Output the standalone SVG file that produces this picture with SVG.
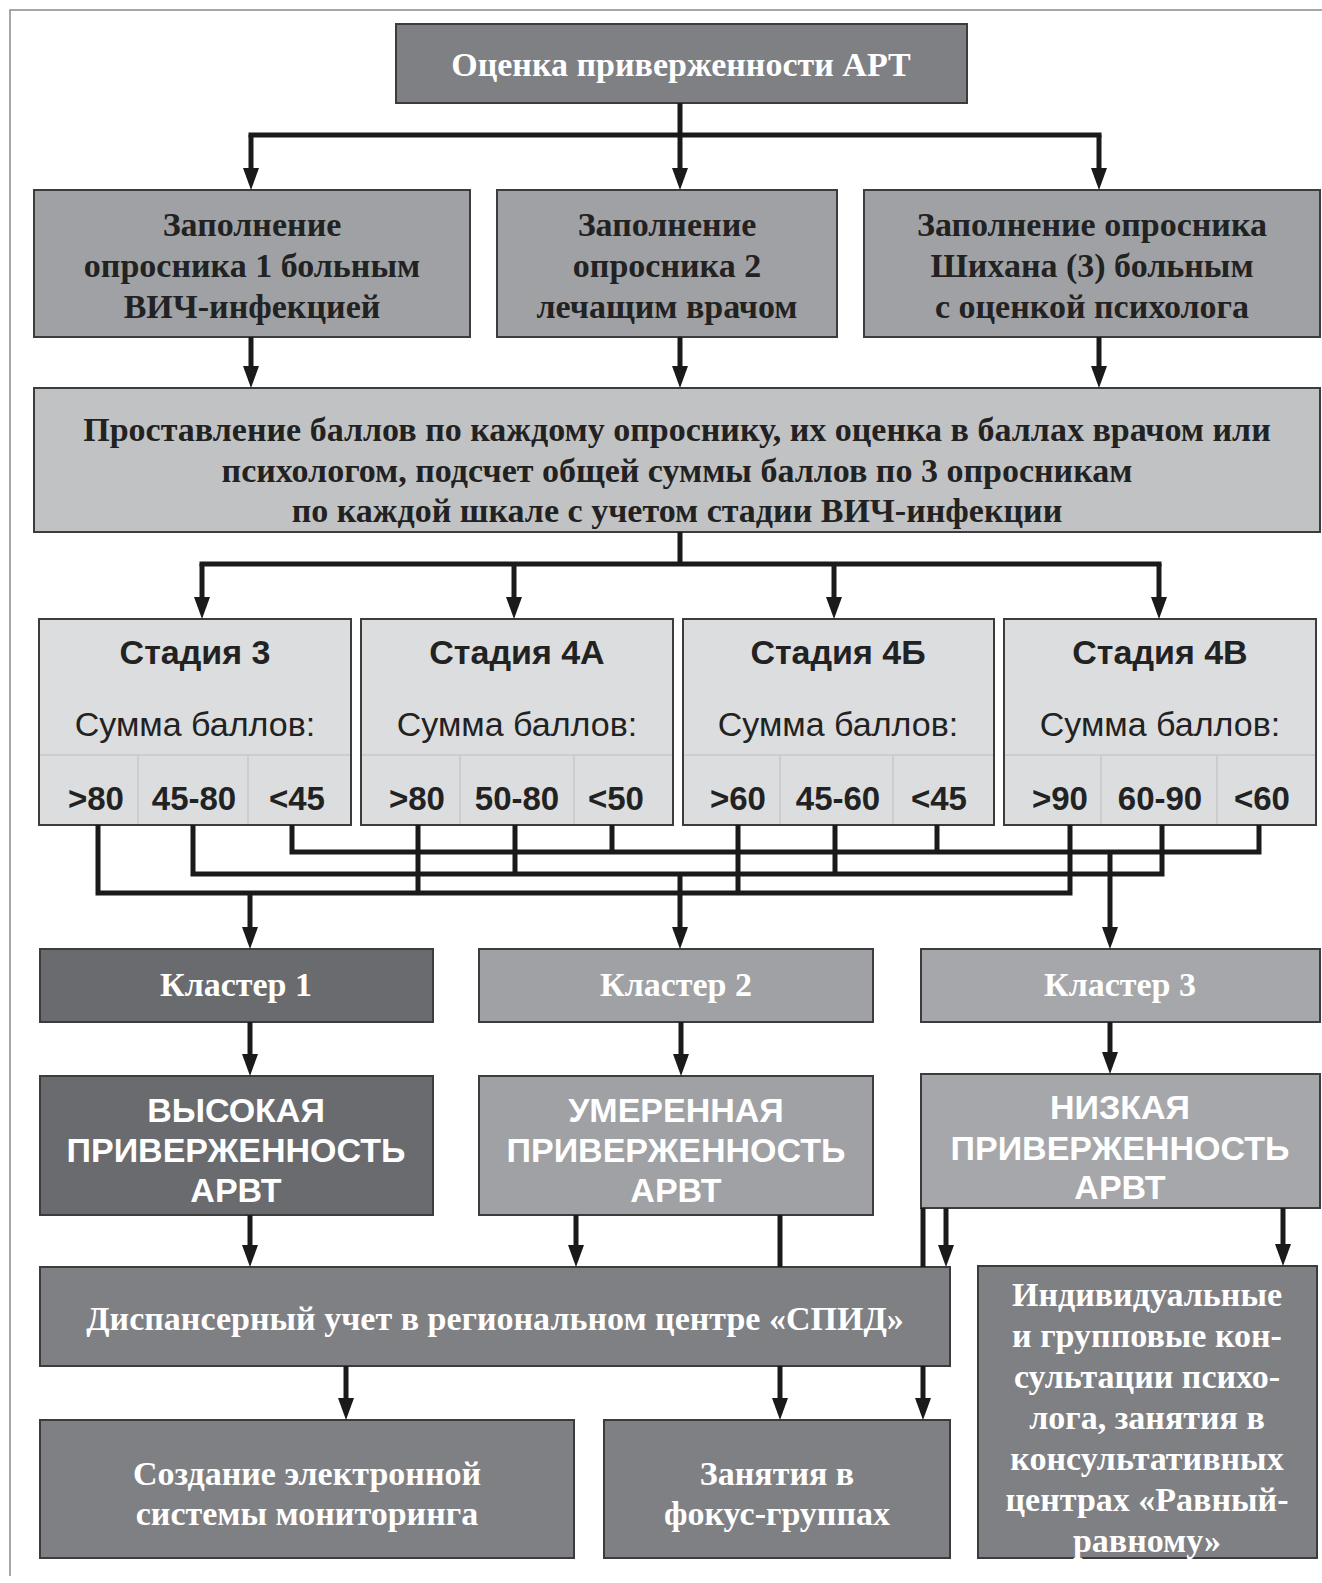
<svg xmlns="http://www.w3.org/2000/svg" width="1322" height="1583" viewBox="0 0 1322 1583">
<defs>
<marker id="ah" viewBox="0 0 22 16" markerWidth="22" markerHeight="16" refX="10" refY="8" markerUnits="userSpaceOnUse" orient="auto">
<path d="M0,0 L22,8 L0,16 z" fill="#1a1a1a"/>
</marker>
<style>
.bx{stroke:#3c3c3c;stroke-width:2}
.c1{fill:#7f8083}
.c2{fill:#a0a1a4}
.c3{fill:#c1c2c4}
.c4{fill:#dcdddf}
.c5{fill:#6a6b6e}
.c6{fill:#a6a7aa}
.sf{font-family:"Liberation Serif","Times New Roman",serif;font-weight:bold;font-size:34px;text-anchor:middle;dominant-baseline:central}
.ss{font-family:"Liberation Sans",Arial,sans-serif;font-size:34px;text-anchor:middle;dominant-baseline:central}
.v{font-size:33px}
.b{font-weight:bold}
.w{fill:#ffffff}
.d{fill:#222222}
.ln{stroke:#1a1a1a;stroke-width:5;fill:none}
.ar{stroke:#1a1a1a;stroke-width:5;fill:none;marker-end:url(#ah)}
.dv{stroke:#c6c7c9;stroke-width:1.5;fill:none}
.fr{stroke:#8a8a8a;stroke-width:1.5;fill:none}
</style>
</defs>
<rect width="1322" height="1583" fill="#ffffff"/>
<path class="fr" d="M10,1576 V10 H1322"/>

<g id="n-top">
<rect class="bx c1" x="396" y="24" width="571" height="79"/>
<text class="sf w" x="681" y="64">Оценка приверженности АРТ</text>
</g>

<g id="n-q1">
<rect class="bx c2" x="34" y="190" width="436" height="147"/>
<text class="sf d" x="252" y="224">Заполнение</text>
<text class="sf d" x="252" y="265">опросника 1 больным</text>
<text class="sf d" x="252" y="306">ВИЧ-инфекцией</text>
</g>
<g id="n-q2">
<rect class="bx c2" x="497" y="190" width="340" height="147"/>
<text class="sf d" x="667" y="224">Заполнение</text>
<text class="sf d" x="667" y="265">опросника 2</text>
<text class="sf d" x="667" y="306">лечащим врачом</text>
</g>
<g id="n-q3">
<rect class="bx c2" x="864" y="190" width="456" height="147"/>
<text class="sf d" x="1092" y="224">Заполнение опросника</text>
<text class="sf d" x="1092" y="265">Шихана (3) больным</text>
<text class="sf d" x="1092" y="306">с оценкой психолога</text>
</g>

<g id="n-score">
<rect class="bx c3" x="34" y="388" width="1286" height="144"/>
<text class="sf d" x="677" y="429">Проставление баллов по каждому опроснику, их оценка в баллах врачом или</text>
<text class="sf d" x="677" y="470">психологом, подсчет общей суммы баллов по 3 опросникам</text>
<text class="sf d" x="677" y="510">по каждой шкале с учетом стадии ВИЧ-инфекции</text>
</g>

<g id="n-st3">
<rect class="bx c4" x="39" y="619" width="312" height="206"/>
<path class="dv" d="M40,755 H350 M138,755 V824 M248,755 V824"/>
<text class="ss b d" x="195" y="652">Стадия 3</text>
<text class="ss d" x="195" y="724">Сумма баллов:</text>
<text class="ss b d v" x="96" y="798">&gt;80</text>
<text class="ss b d v" x="194" y="798">45-80</text>
<text class="ss b d v" x="297" y="798">&lt;45</text>
</g>
<g id="n-st4a">
<rect class="bx c4" x="361" y="619" width="312" height="206"/>
<path class="dv" d="M362,755 H672 M460,755 V824 M574,755 V824"/>
<text class="ss b d" x="517" y="652">Стадия 4А</text>
<text class="ss d" x="517" y="724">Сумма баллов:</text>
<text class="ss b d v" x="417" y="798">&gt;80</text>
<text class="ss b d v" x="517" y="798">50-80</text>
<text class="ss b d v" x="616" y="798">&lt;50</text>
</g>
<g id="n-st4b">
<rect class="bx c4" x="683" y="619" width="311" height="206"/>
<path class="dv" d="M684,755 H993 M780,755 V824 M893,755 V824"/>
<text class="ss b d" x="838" y="652">Стадия 4Б</text>
<text class="ss d" x="838" y="724">Сумма баллов:</text>
<text class="ss b d v" x="738" y="798">&gt;60</text>
<text class="ss b d v" x="838" y="798">45-60</text>
<text class="ss b d v" x="939" y="798">&lt;45</text>
</g>
<g id="n-st4v">
<rect class="bx c4" x="1004" y="619" width="312" height="206"/>
<path class="dv" d="M1005,755 H1315 M1101,755 V824 M1217,755 V824"/>
<text class="ss b d" x="1160" y="652">Стадия 4В</text>
<text class="ss d" x="1160" y="724">Сумма баллов:</text>
<text class="ss b d v" x="1060" y="798">&gt;90</text>
<text class="ss b d v" x="1160" y="798">60-90</text>
<text class="ss b d v" x="1262" y="798">&lt;60</text>
</g>

<g id="n-cl1">
<rect class="bx c5" x="40" y="949" width="393" height="73"/>
<text class="sf w" x="236" y="984">Кластер 1</text>
</g>
<g id="n-cl2">
<rect class="bx c2" x="479" y="949" width="394" height="73"/>
<text class="sf w" x="676" y="984">Кластер 2</text>
</g>
<g id="n-cl3">
<rect class="bx c6" x="921" y="949" width="399" height="73"/>
<text class="sf w" x="1120" y="984">Кластер 3</text>
</g>

<g id="n-high">
<rect class="bx c5" x="40" y="1076" width="393" height="139"/>
<text class="ss b w" x="236" y="1110">ВЫСОКАЯ</text>
<text class="ss b w" x="236" y="1150">ПРИВЕРЖЕННОСТЬ</text>
<text class="ss b w" x="236" y="1190">АРВТ</text>
</g>
<g id="n-mid">
<rect class="bx c2" x="479" y="1076" width="394" height="139"/>
<text class="ss b w" x="676" y="1110">УМЕРЕННАЯ</text>
<text class="ss b w" x="676" y="1150">ПРИВЕРЖЕННОСТЬ</text>
<text class="ss b w" x="676" y="1190">АРВТ</text>
</g>
<g id="n-low">
<rect class="bx c6" x="921" y="1074" width="399" height="134"/>
<text class="ss b w" x="1120" y="1107">НИЗКАЯ</text>
<text class="ss b w" x="1120" y="1148">ПРИВЕРЖЕННОСТЬ</text>
<text class="ss b w" x="1120" y="1187">АРВТ</text>
</g>

<g id="n-disp">
<rect class="bx c1" x="40" y="1267" width="910" height="99"/>
<text class="sf w" x="495" y="1318">Диспансерный учет в региональном центре «СПИД»</text>
</g>
<g id="n-indiv">
<rect class="bx c1" x="978" y="1266" width="339" height="292"/>
<text class="sf w" x="1147" y="1294">Индивидуальные</text>
<text class="sf w" x="1147" y="1335">и групповые кон-</text>
<text class="sf w" x="1147" y="1376">сультации психо-</text>
<text class="sf w" x="1147" y="1417">лога, занятия в</text>
<text class="sf w" x="1147" y="1458">консультативных</text>
<text class="sf w" x="1147" y="1499">центрах «Равный-</text>
<text class="sf w" x="1147" y="1540">равному»</text>
</g>
<g id="n-mon">
<rect class="bx c1" x="40" y="1420" width="534" height="138"/>
<text class="sf w" x="307" y="1473">Создание электронной</text>
<text class="sf w" x="307" y="1513">системы мониторинга</text>
</g>
<g id="n-focus">
<rect class="bx c1" x="604" y="1420" width="346" height="138"/>
<text class="sf w" x="777" y="1473">Занятия в</text>
<text class="sf w" x="777" y="1513">фокус-группах</text>
</g>

<g id="connectors">
<path class="ln" d="M680,103 V135 M248.5,135 H1101.5"/>
<path class="ar" d="M251,135 V178"/>
<path class="ar" d="M680,135 V178"/>
<path class="ar" d="M1099,135 V178"/>
<path class="ar" d="M251,337 V376"/>
<path class="ar" d="M680,337 V376"/>
<path class="ar" d="M1099,337 V376"/>
<path class="ln" d="M680,532 V564 M199.5,564 H1161.5"/>
<path class="ar" d="M202,564 V607"/>
<path class="ar" d="M514,564 V607"/>
<path class="ar" d="M834,564 V607"/>
<path class="ar" d="M1159,564 V607"/>
<path class="ln" d="M292,825 V852 M612,825 V852 M937,825 V852 M1259,825 V852 M289.5,852 H1261.5"/>
<path class="ln" d="M193,825 V874 M515,825 V874 M835,825 V874 M1162,825 V874 M190.5,874 H1164.5"/>
<path class="ln" d="M98,825 V893 M418,825 V893 M738,825 V893 M1070,825 V893 M95.5,893 H1072.5"/>
<path class="ar" d="M250,893 V937"/>
<path class="ar" d="M680,874 V937"/>
<path class="ar" d="M1110,852 V937"/>
<path class="ar" d="M250,1022 V1064"/>
<path class="ar" d="M681,1022 V1064"/>
<path class="ar" d="M1110,1022 V1062"/>
<path class="ar" d="M250,1215 V1255"/>
<path class="ar" d="M576,1215 V1255"/>
<path class="ln" d="M780,1215 V1267"/>
<path class="ln" d="M923,1208 V1267"/>
<path class="ar" d="M946,1208 V1255"/>
<path class="ar" d="M1283,1208 V1254"/>
<path class="ar" d="M346,1366 V1408"/>
<path class="ar" d="M780,1366 V1408"/>
<path class="ar" d="M923,1366 V1408"/>
</g>
</svg>
